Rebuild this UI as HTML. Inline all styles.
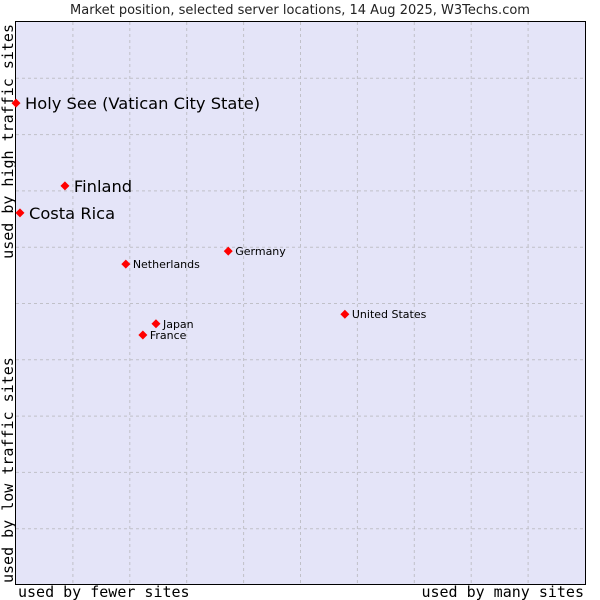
<!DOCTYPE html>
<html><head><meta charset="utf-8"><style>
body{margin:0;background:#fff;width:600px;height:600px;overflow:hidden}
svg{display:block}
</style></head><body>
<svg id="chart" width="600" height="600" xmlns="http://www.w3.org/2000/svg">
<text x="300" y="14" text-anchor="middle" font-family="DejaVu Sans, Liberation Sans, sans-serif" font-size="13" fill="#222">Market position, selected server locations, 14 Aug 2025, W3Techs.com</text>
<rect x="15.5" y="21.5" width="570" height="563" fill="#e4e4f8" stroke="#000" stroke-width="1"/>
<g id="grid"></g>
<text x="18" y="597" font-family="DejaVu Sans Mono, Liberation Mono, monospace" font-size="15" fill="#000">used by fewer sites</text>
<text x="584" y="597" text-anchor="end" font-family="DejaVu Sans Mono, Liberation Mono, monospace" font-size="15" fill="#000">used by many sites</text>
<text transform="translate(13,583) rotate(-90)" font-family="DejaVu Sans Mono, Liberation Mono, monospace" font-size="15" fill="#000">used by low traffic sites</text>
<text transform="translate(13,24) rotate(-90)" text-anchor="end" font-family="DejaVu Sans Mono, Liberation Mono, monospace" font-size="15" fill="#000">used by high traffic sites</text>
<g id="points"></g>
</svg>
<script>
const countries = ["Holy See (Vatican City State)","Finland","Costa Rica","Germany","Netherlands","United States","Japan","France"];
const xValues = [0, 8.6, 0.7, 37.3, 19.3, 57.8, 24.6, 22.3];
const yValues = [85.6, 70.9, 66.1, 59.3, 57.0, 48.1, 46.4, 44.4];
const bigLabel = [true, true, true, false, false, false, false, false];
const L=16,R=585,T=22,B=585;
function sx(v){return L+v/100*(R-L);}
function sy(v){return B-v/100*(B-T);}
const NS="http://www.w3.org/2000/svg";
const grid=document.getElementById('grid');
for(let i=1;i<10;i++){
  const x=L+i*(R-L)/10, y=T+i*(B-T)/10;
  const v=document.createElementNS(NS,'line');
  
  
  v.setAttribute('x1',x);v.setAttribute('x2',x);v.setAttribute('y1',T);v.setAttribute('y2',B);
  v.setAttribute('stroke','#c0c0c8');v.setAttribute('stroke-dasharray','3,3');
  grid.appendChild(v);
  const h=document.createElementNS(NS,'line');
  
  
  h.setAttribute('x1',L);h.setAttribute('x2',R);h.setAttribute('y1',y);h.setAttribute('y2',y);
  h.setAttribute('stroke','#c0c0c8');h.setAttribute('stroke-dasharray','3,3');
  grid.appendChild(h);
}
const pts=document.getElementById('points');
countries.forEach((c,i)=>{
  const x=sx(xValues[i]), y=sy(yValues[i]);
  const p=document.createElementNS(NS,'polygon');
  
  
  p.setAttribute('points',`${x},${y-4.5} ${x+4.5},${y} ${x},${y+4.5} ${x-4.5},${y}`);
  p.setAttribute('fill','#f00');
  pts.appendChild(p);
  const t=document.createElementNS(NS,'text');
  
  
  const big=bigLabel[i];
  t.setAttribute('x',x+(big?9:7));
  t.setAttribute('y',y+(big?6:4));
  t.setAttribute('font-family','DejaVu Sans, Liberation Sans, sans-serif');
  t.setAttribute('font-size',big?16.3:11);
  t.setAttribute('fill','#000');
  t.textContent=c;
  pts.appendChild(t);
});
</script>
</body></html>
